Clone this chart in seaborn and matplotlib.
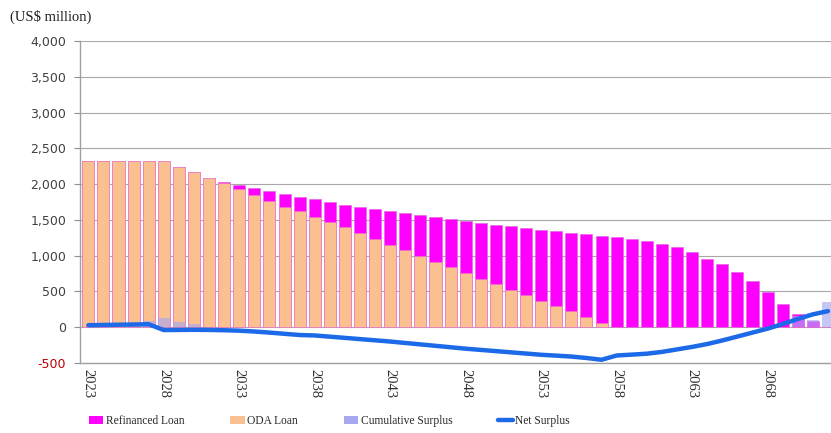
import numpy as np
import pandas as pd
import matplotlib
matplotlib.use("Agg")
import matplotlib.pyplot as plt
from matplotlib.patches import Patch
from matplotlib.lines import Line2D
import seaborn as sns

# Repayment schedule, US$ million
years = list(range(2023, 2073))

oda_loan = [2320, 2320, 2320, 2320, 2320, 2320, 2240, 2165, 2080, 2010,
            1925, 1850, 1765, 1685, 1620, 1545, 1475, 1395, 1320, 1230,
            1150, 1075, 995, 915, 835, 760, 680, 600, 525, 445,
            365, 295, 230, 145, 65, 0, 0, 0, 0, 0,
            0, 0, 0, 0, 0, 0, 0, 0, 0, 0]

refinanced_loan = [0, 0, 0, 0, 0, 0, 0, 0, 0, 15,
                   65, 100, 135, 175, 205, 240, 270, 310, 360, 420,
                   475, 520, 570, 620, 675, 725, 780, 835, 885, 940,
                   1000, 1050, 1090, 1160, 1215, 1260, 1235, 1205, 1170, 1120,
                   1055, 960, 880, 775, 645, 490, 320, 180, 90, 0]

cumulative_surplus = [0, 0, 0, 30, 90, 125, 75, 45, 10, 0,
                      0, 0, 0, 0, 0, 0, 0, 0, 0, 0,
                      0, 0, 0, 0, 0, 0, 0, 0, 0, 0,
                      0, 0, 0, 0, 0, 0, 0, 0, 0, 0,
                      0, 0, 0, 0, 0, 0, 0, 150, 100, 350]

net_surplus = [28, 32, 35, 38, 42, -40, -38, -36, -38, -42,
               -48, -60, -75, -92, -109, -115, -132, -149, -166, -183,
               -200, -220, -240, -260, -280, -300, -317, -334, -351, -368,
               -385, -397, -410, -430, -455, -395, -383, -370, -345, -310,
               -275, -235, -185, -130, -75, -20, 45, 115, 180, 225]

y_ticks = [-500, 0, 500, 1000, 1500, 2000, 2500, 3000, 3500, 4000]

C_REFI = "#FF00FF"
C_ODA = "#FAC090"
C_CUM = "#A8A8F0"
C_NET = "#1C6AE8"

df = pd.DataFrame({
    "year": [str(y) for y in years],
    "oda": oda_loan,
    "refi": refinanced_loan,
    "cum": cumulative_surplus,
    "net": net_surplus,
})
df["total"] = df["oda"] + df["refi"]
df["pos"] = np.arange(len(df))

sns.set_theme(style="white")
plt.rcParams["font.family"] = ["DejaVu Sans"]

fig = plt.figure(figsize=(8.31, 4.33), dpi=100)
ax = fig.add_axes([80 / 831, 1 - 363 / 433, 1 - 80 / 831, (363 - 41) / 433])

# Stacked bars: total (refinanced on top), then ODA portion over it
sns.barplot(data=df, x="year", y="total", color=C_REFI, saturation=1,
            width=0.8, ax=ax, zorder=2, edgecolor="#E060E0", linewidth=0.4)
sns.barplot(data=df, x="year", y="oda", color=C_ODA, saturation=1,
            width=0.8, ax=ax, zorder=3, edgecolor="#E878C8", linewidth=0.4)
sns.barplot(data=df, x="year", y="cum", color=C_CUM, saturation=1,
            width=0.8, ax=ax, zorder=4, alpha=0.65, linewidth=0)

sns.lineplot(data=df, x="pos", y="net", color=C_NET, linewidth=3.2,
             ax=ax, zorder=6, solid_capstyle="round")

ax.set_ylim(-500, 4000)
ax.set_xlim(-0.55, 49.2)
ax.set_yticks(y_ticks)
ax.set_yticklabels([f"{v:,}" for v in y_ticks], fontsize=9, color="#404040")
ax.get_yticklabels()[0].set_color("#C00000")

tick_pos = list(range(0, len(years), 5))
ax.set_xticks(tick_pos)
ax.set_xticklabels([str(years[i]) for i in tick_pos], rotation=270,
                   fontsize=10.5, family="Liberation Serif", color="#303030",
                   va="top", ha="center")
ax.tick_params(axis="x", length=0, pad=4)
ax.tick_params(axis="y", length=4, width=0.8, color="#909090", pad=6,
               direction="out", left=True)
ax.set_xlabel("")
ax.set_ylabel("")

ax.yaxis.grid(True, color="#A8A8A8", linewidth=0.8, zorder=0)
ax.set_axisbelow(True)
for side in ["top", "right"]:
    ax.spines[side].set_visible(False)
for side in ["left", "bottom"]:
    ax.spines[side].set_color("#A0A0A0")
    ax.spines[side].set_linewidth(1.0)

fig.text(10 / 831, 1 - 17 / 433, "(US$ million)", fontsize=10.5,
         family="Liberation Serif", color="#202020", va="center", ha="left")

handles = [
    Patch(facecolor=C_REFI, edgecolor="none", label="Refinanced Loan"),
    Patch(facecolor=C_ODA, edgecolor="none", label="ODA Loan"),
    Patch(facecolor=C_CUM, edgecolor="none", label="Cumulative Surplus"),
    Line2D([0], [0], color=C_NET, linewidth=3.2, solid_capstyle="round",
           label="Net Surplus"),
]
fig.legend(handles=handles, loc="center left", ncol=4,
           bbox_to_anchor=(89 / 831, 1 - 421 / 433), frameon=False,
           prop={"family": "Liberation Serif", "size": 8.3},
           handlelength=1.25, handleheight=0.75, handletextpad=0.2,
           columnspacing=4.0, borderpad=0, borderaxespad=0)

fig.savefig("out.png", dpi=100)
